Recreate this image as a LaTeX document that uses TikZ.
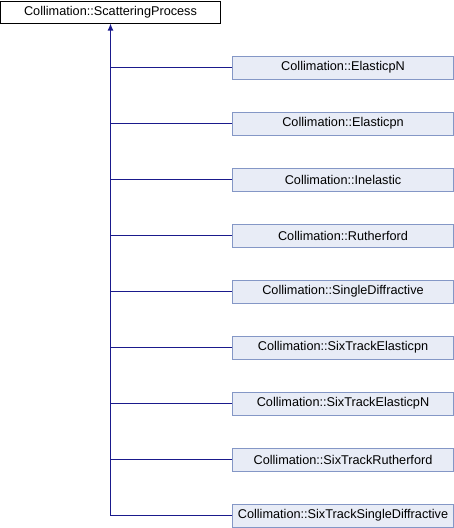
\documentclass[tikz,border=0pt]{standalone}
\usepackage{fontspec}
\setmainfont{Liberation Sans}
\usetikzlibrary{arrows.meta}
\definecolor{edgeblue}{HTML}{1A1A8C}
\definecolor{boxfill}{HTML}{E8ECF6}
\definecolor{boxline}{HTML}{8497C6}
\tikzset{
  rootbox/.style={draw=black, fill=white, line width=1pt, minimum width=220pt, minimum height=22pt, inner sep=0pt, font=\fontsize{12.7}{14}\selectfont},
  childbox/.style={draw=boxline, fill=boxfill, line width=1pt, minimum width=221pt, minimum height=23pt, inner sep=0pt, font=\fontsize{12.7}{14}\selectfont},
  inh/.style={draw=edgeblue, line width=1.2pt},
}
\begin{document}
\begin{tikzpicture}[x=1pt,y=-1pt]
\useasboundingbox (0,0) rectangle (454,528);
\node[rootbox] (root) at (110.5,12) {Collimation::ScatteringProcess};
\foreach \i/\name in {0/ElasticpN,1/Elasticpn,2/Inelastic,3/Rutherford,4/SingleDiffractive,5/SixTrackElasticpn,6/SixTrackElasticpN,7/SixTrackRutherford,8/SixTrackSingleDiffractive}{
  \node[childbox] (c\i) at (343,67.5+56*\i) {Collimation::\name};
}
\coordinate (bend) at (110.5,515.5);
\draw[inh, {Latex[length=7pt,width=6pt]}-] (root.south) -- (bend) -- (c8.west);
\foreach \i in {0,...,7}{
  \draw[inh] (c\i.west) -- (root.south |- c\i.west);
}
\end{tikzpicture}
\end{document}
